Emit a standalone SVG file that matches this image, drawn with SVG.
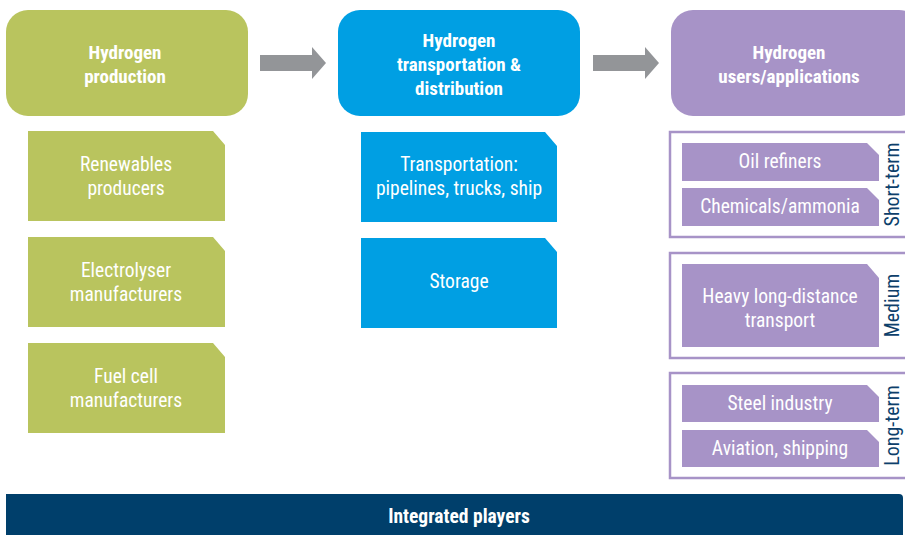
<svg xmlns="http://www.w3.org/2000/svg" width="905" height="535" viewBox="0 0 905 535">
<style>
text{font-family:"Liberation Sans Narrow","Roboto Condensed","Liberation Sans",Arial,sans-serif;font-size:19.5px;fill:#fff;text-anchor:middle}
.h{font-weight:bold;font-size:19px}
.g{fill:#b9c45e}
.b{fill:#009fe3}
.p{fill:#a793c7}
.grp{fill:none;stroke:#a793c7;stroke-width:2.5}
.lbl{fill:#0d3f6b;font-size:20px}
.arr{fill:#939598}
</style>
<rect width="905" height="535" fill="#fff"/>
<g id="connectors">
<path class="arr" d="M260,55 H312 V47 L326,63 L312,79 V71 H260 Z"/>
<path class="arr" d="M593,55 H645 V47 L659,63 L645,79 V71 H593 Z"/>
</g>
<g id="production">
<rect class="g" x="6" y="10" width="242" height="106" rx="22"/>
<text class="h" x="125" y="59">Hydrogen</text>
<text class="h" x="125" y="83">production</text>
</g>
<g id="transport">
<rect class="b" x="338" y="10" width="242" height="106" rx="22"/>
<text class="h" x="459" y="47">Hydrogen</text>
<text class="h" x="459" y="71">transportation &amp;</text>
<text class="h" x="459" y="95">distribution</text>
</g>
<g id="users">
<rect class="p" x="671" y="10" width="250" height="106" rx="22"/>
<text class="h" x="789" y="59">Hydrogen</text>
<text class="h" x="789" y="83">users/applications</text>
</g>
<g id="renewables">
<path class="g" d="M28,131 H213 L225,145 V221 H28 Z"/>
<text x="126" y="171">Renewables</text>
<text x="126" y="195">producers</text>
</g>
<g id="electrolyser">
<path class="g" d="M28,237 H213 L225,251 V327 H28 Z"/>
<text x="126" y="277">Electrolyser</text>
<text x="126" y="301">manufacturers</text>
</g>
<g id="fuelcell">
<path class="g" d="M28,343 H213 L225,357 V433 H28 Z"/>
<text x="126" y="383">Fuel cell</text>
<text x="126" y="407">manufacturers</text>
</g>
<g id="transportation">
<path class="b" d="M361,132 H545 L557,146 V222 H361 Z"/>
<text x="459" y="171">Transportation:</text>
<text x="459" y="195">pipelines, trucks, ship</text>
</g>
<g id="storage">
<path class="b" d="M361,238 H545 L557,252 V328 H361 Z"/>
<text x="459" y="288">Storage</text>
</g>
<g id="shortterm">
<rect class="grp" x="670" y="132" width="250" height="105"/>
<path class="p" d="M682,143 H867 L879,155 V181 H682 Z"/>
<text x="780" y="168">Oil refiners</text>
<path class="p" d="M682,188 H867 L879,200 V226 H682 Z"/>
<text x="780" y="213">Chemicals/ammonia</text>
<text class="lbl" transform="translate(899,184.5) rotate(-90)">Short-term</text>
</g>
<g id="medium">
<rect class="grp" x="670" y="253" width="250" height="105"/>
<path class="p" d="M682,264 H867 L879,278 V347 H682 Z"/>
<text x="780" y="303">Heavy long-distance</text>
<text x="780" y="327">transport</text>
<text class="lbl" transform="translate(899,305.5) rotate(-90)">Medium</text>
</g>
<g id="longterm">
<rect class="grp" x="670" y="373" width="250" height="105"/>
<path class="p" d="M682,385 H867 L879,397 V422 H682 Z"/>
<text x="780" y="410">Steel industry</text>
<path class="p" d="M682,430 H867 L879,442 V467 H682 Z"/>
<text x="780" y="455">Aviation, shipping</text>
<text class="lbl" transform="translate(899,425.5) rotate(-90)">Long-term</text>
</g>
<g id="integrated">
<path d="M6,494 H899 Q903,494 903,498 V535 H6 Z" fill="#003f6b"/>
<text class="h" x="459" y="523" style="font-size:19.5px">Integrated players</text>
</g>
</svg>
